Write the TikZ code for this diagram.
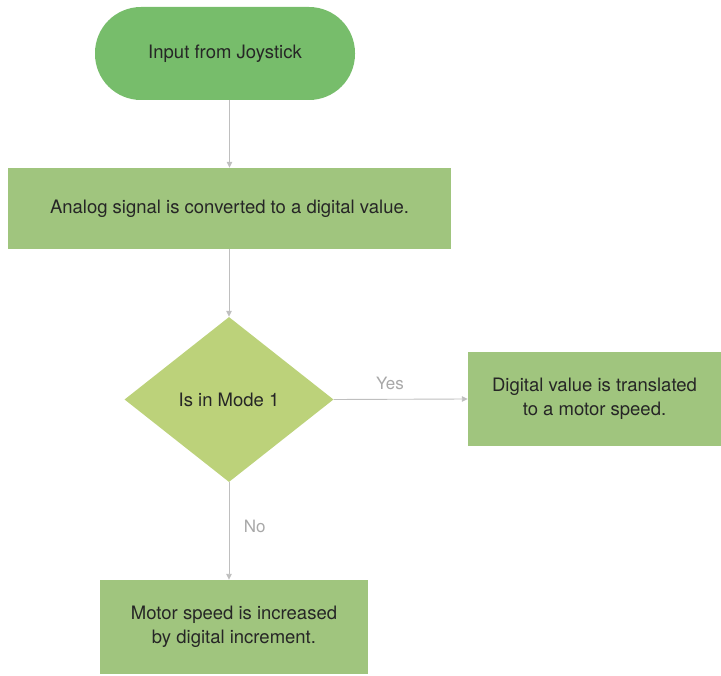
\documentclass[tikz,border=0pt]{standalone}
\usepackage{fontspec}
\setmainfont{TeX Gyre Heros}
\usetikzlibrary{shapes.geometric,arrows.meta}
\definecolor{termgreen}{HTML}{77BD6B}
\definecolor{boxgreen}{HTML}{A0C57E}
\definecolor{diagreen}{HTML}{BCD27A}
\definecolor{edgegray}{HTML}{BFBFBF}
\definecolor{txt}{HTML}{262626}
\definecolor{lbl}{HTML}{A8A8A8}
\tikzset{
  base/.style={text=txt, font=\fontsize{18.5}{24}\selectfont, inner sep=0pt, align=center},
  term/.style={base, rectangle, rounded corners=46pt, fill=termgreen, minimum width=260pt, minimum height=93pt},
  procbox/.style={base, rectangle, fill=boxgreen},
  decision/.style={base, diamond, fill=diagreen, aspect=1.267},
  conn/.style={draw=edgegray, line width=0.9pt, -{Triangle[length=6pt,width=5.5pt]}},
  elabel/.style={text=lbl, font=\fontsize{17}{20}\selectfont}
}
\begin{document}
\begin{tikzpicture}[x=1pt,y=-1pt]
\useasboundingbox (0,0) rectangle (721,676);
\node[term] (start) at (225,53.5) {Input from Joystick};
\node[procbox, minimum width=443pt, minimum height=81pt] (conv) at (229.5,208.5) {Analog signal is converted to a digital value.};
\node[decision, minimum width=209pt, minimum height=165pt] (mode) at (229,399.5) {Is in Mode 1};
\node[procbox, minimum width=253pt, minimum height=94pt] (yes) at (594.5,399) {Digital value is translated\\to a motor speed.};
\node[procbox, minimum width=268pt, minimum height=94pt] (no) at (234,627) {Motor speed is increased\\by digital increment.};
\draw[conn] (start.south -| conv.north) -- (conv.north);
\draw[conn] (conv.south -| mode.north) -- (mode.north);
\draw[conn] (mode.east) -- (yes.west) node[elabel, pos=0.42, above=6pt] {Yes};
\draw[conn] (mode.south) -- (mode.south |- no.north) node[elabel, pos=0.45, right=11pt] {No};
\end{tikzpicture}
\end{document}
